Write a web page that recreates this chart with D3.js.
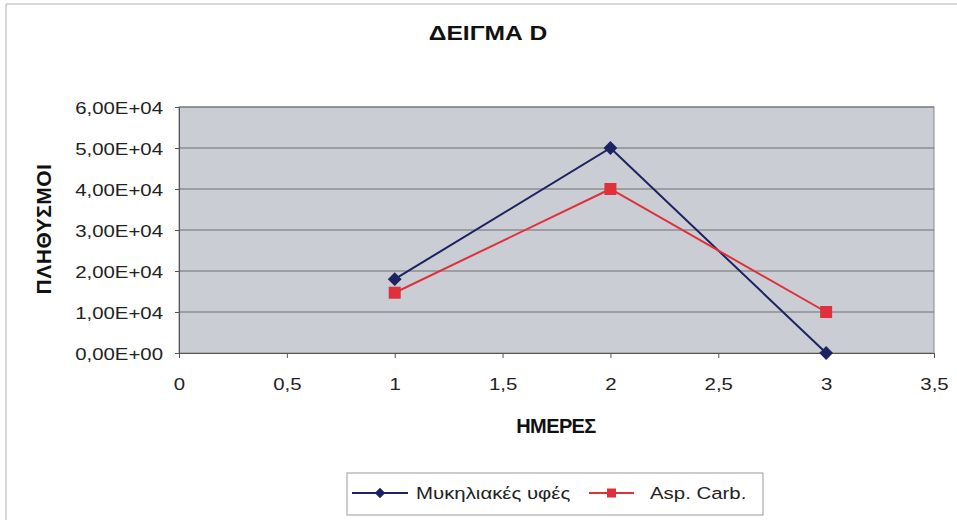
<!DOCTYPE html>
<html>
<head>
<meta charset="utf-8">
<script src="https://cdn.jsdelivr.net/npm/d3@7"></script>
<style>
  html, body { margin: 0; padding: 0; background: #fff; }
  svg { display: block; font-family: "Liberation Sans", Arial, sans-serif; }
</style>
</head>
<body>
<svg id="chart" width="957" height="520"></svg>
<script>
// Days sampled
const days = [1, 2, 3];
// Population counts per series
const mycelium = [18000, 50000, 0];
const aspCarb = [14700, 40000, 10000];
const seriesNames = ["Μυκηλιακές υφές", "Asp. Carb."];
const xTicks = [0, 0.5, 1, 1.5, 2, 2.5, 3, 3.5];
const yTicks = [0, 10000, 20000, 30000, 40000, 50000, 60000];

const svg = d3.select("#chart");
const W = 957, H = 520;
const plot = { left: 179, right: 934, top: 107, bottom: 353 };
const SX = 1.2; // horizontal widening of the lettering

// outer frame (top and left edges)
svg.append("line").attr("x1", 6).attr("x2", W).attr("y1", 4).attr("y2", 4)
  .attr("stroke", "#c8c8c8").attr("stroke-width", 1.5);
svg.append("line").attr("x1", 6).attr("x2", 6).attr("y1", 4).attr("y2", H)
  .attr("stroke", "#c8c8c8").attr("stroke-width", 1.5);

const x = d3.scaleLinear().domain([0, 3.5]).range([plot.left, plot.right]);
const y = d3.scaleLinear().domain([0, 60000]).range([plot.bottom, plot.top]);

// plot background
svg.append("rect")
  .attr("x", plot.left).attr("y", plot.top)
  .attr("width", plot.right - plot.left).attr("height", plot.bottom - plot.top)
  .attr("fill", "#cacdd4").attr("stroke", "#8a8a8a").attr("stroke-width", 1);

// horizontal gridlines
svg.append("g").selectAll("line").data(yTicks.slice(1)).join("line")
  .attr("x1", plot.left).attr("x2", plot.right)
  .attr("y1", d => y(d)).attr("y2", d => y(d))
  .attr("stroke", "#6f6f6f").attr("stroke-width", 1);

const fmtY = d => {
  const e = d === 0 ? 0 : Math.floor(Math.log10(d));
  const m = d === 0 ? 0 : d / Math.pow(10, e);
  return m.toFixed(2).replace(".", ",") + "E+" + String(e).padStart(2, "0");
};

// y axis
const yAxis = svg.append("g").attr("transform", `translate(${plot.left},0)`)
  .call(d3.axisLeft(y).tickValues(yTicks).tickFormat(fmtY).tickSize(4));
yAxis.select(".domain").attr("stroke", "#555");
yAxis.selectAll(".tick line").attr("stroke", "#555");
yAxis.selectAll("text")
  .attr("font-size", 17).attr("fill", "#222")
  .attr("font-family", "Liberation Sans, Arial, sans-serif")
  .attr("x", -16 / SX).attr("dy", "0.36em")
  .attr("transform", `scale(${SX},1)`);

// x axis
const xAxis = svg.append("g").attr("transform", `translate(0,${plot.bottom})`)
  .call(d3.axisBottom(x).tickValues(xTicks)
    .tickFormat(d => String(d).replace(".", ",")).tickSize(5));
xAxis.select(".domain").attr("stroke", "#555");
xAxis.selectAll(".tick line").attr("stroke", "#555");
xAxis.selectAll("text")
  .attr("font-size", 17).attr("fill", "#222")
  .attr("font-family", "Liberation Sans, Arial, sans-serif")
  .attr("y", 37).attr("dy", 0)
  .attr("transform", `scale(${SX},1)`);

// titles
svg.append("text").attr("transform", `translate(488,40) scale(${SX},1)`)
  .attr("text-anchor", "middle")
  .attr("font-size", 20.5).attr("font-weight", "bold").attr("fill", "#111")
  .text("ΔΕΙΓΜΑ D");
svg.append("text").attr("transform", "translate(556,433)")
  .attr("text-anchor", "middle")
  .attr("font-size", 20).attr("font-weight", "bold").attr("fill", "#111")
  .attr("letter-spacing", -0.6)
  .text("ΗΜΕΡΕΣ");
svg.append("text").attr("transform", "translate(51,229) rotate(-90)")
  .attr("text-anchor", "middle")
  .attr("font-size", 21).attr("font-weight", "bold").attr("fill", "#111")
  .attr("letter-spacing", 0.5)
  .text("ΠΛΗΘΥΣΜΟΙ");

const line = d3.line().x((d, i) => x(days[i])).y(d => y(d));
const colors = ["#1c2360", "#e0303c"];

// series lines
[mycelium, aspCarb].forEach((vals, k) => {
  svg.append("path").datum(vals).attr("d", line)
    .attr("fill", "none").attr("stroke", colors[k]).attr("stroke-width", 2);
});

// markers: diamonds for mycelium, squares for Asp. Carb.
const diamond = d3.symbol().type(d3.symbolSquare).size(95);
svg.append("g").selectAll("path").data(mycelium).join("path")
  .attr("d", diamond)
  .attr("transform", (d, i) => `translate(${x(days[i])},${y(d)}) rotate(45)`)
  .attr("fill", colors[0]);
svg.append("g").selectAll("rect").data(aspCarb).join("rect")
  .attr("x", (d, i) => x(days[i]) - 6).attr("y", d => y(d) - 6)
  .attr("width", 12).attr("height", 12).attr("fill", colors[1]);

// legend
const lg = svg.append("g");
lg.append("rect").attr("x", 347).attr("y", 473).attr("width", 416).attr("height", 42)
  .attr("fill", "#fff").attr("stroke", "#9a9a9a").attr("stroke-width", 1);
const ly = 493;
lg.append("line").attr("x1", 352).attr("x2", 408).attr("y1", ly).attr("y2", ly)
  .attr("stroke", colors[0]).attr("stroke-width", 2);
lg.append("path").attr("d", d3.symbol().type(d3.symbolSquare).size(55))
  .attr("transform", `translate(380,${ly}) rotate(45)`).attr("fill", colors[0]);
lg.append("text").attr("transform", `translate(416,${ly + 6}) scale(${SX},1)`)
  .attr("font-size", 17).attr("fill", "#222")
  .text(seriesNames[0]);
lg.append("line").attr("x1", 589).attr("x2", 634).attr("y1", ly).attr("y2", ly)
  .attr("stroke", colors[1]).attr("stroke-width", 2);
lg.append("rect").attr("x", 607).attr("y", ly - 4.5).attr("width", 9).attr("height", 9)
  .attr("fill", colors[1]);
lg.append("text").attr("transform", `translate(650,${ly + 6}) scale(${SX},1)`)
  .attr("font-size", 17).attr("fill", "#222")
  .text(seriesNames[1]);
</script>
</body>
</html>
